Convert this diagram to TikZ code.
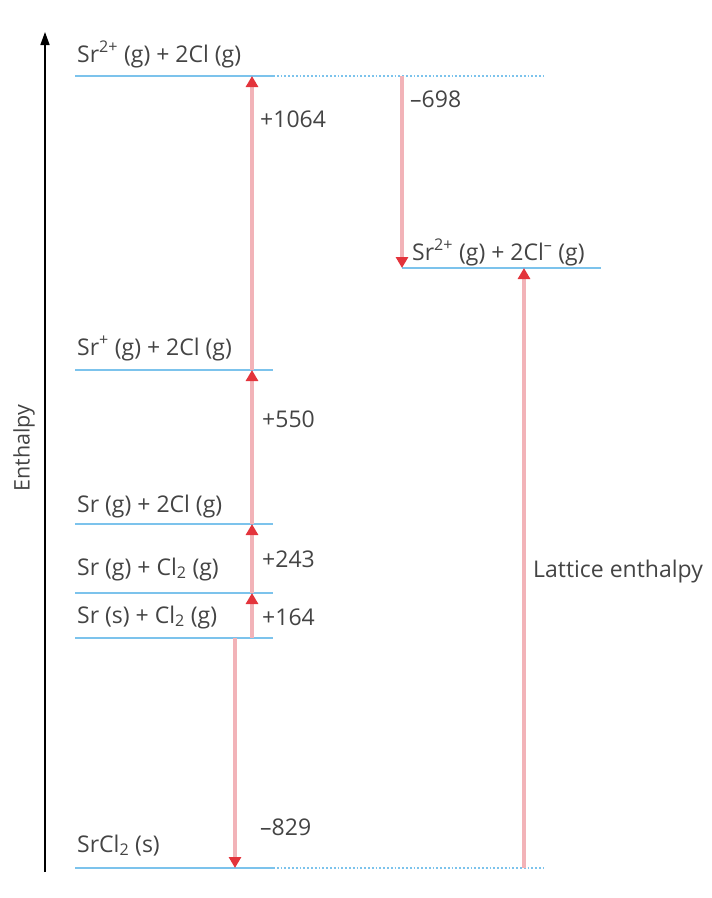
\documentclass[tikz,border=0pt]{standalone}
\usepackage{fontspec}
\setmainfont{Open Sans}
\usetikzlibrary{arrows.meta}
\definecolor{lvl}{HTML}{7CC3EC}
\definecolor{arrline}{HTML}{F2B3B8}
\definecolor{arrhead}{HTML}{E3343C}
\definecolor{txt}{HTML}{444444}
\begin{document}
\begin{tikzpicture}[x=1pt,y=-1pt,
  level/.style={draw=lvl,line width=2.4pt},
  dotlevel/.style={draw=lvl,line width=1.8pt,dash pattern=on 1.8pt off 2pt},
  rarrow/.style={draw=arrline,line width=3.5pt,-{Triangle[width=12pt,length=11pt,color=arrhead]}},
  lab/.style={anchor=base west,inner sep=0pt,text=txt,font=\fontsize{23}{26}\selectfont},
]
\useasboundingbox (0,0) rectangle (712,898);

% enthalpy axis
\coordinate (ax0) at (45,872);
\coordinate (ax1) at (45,32);
\draw[line width=1.6pt,-{Triangle[width=9pt,length=13pt]}] (ax0) -- (ax1);
\node[rotate=90,inner sep=0pt,text=txt,font=\fontsize{21.5}{24}\selectfont] (enth) at (24,448) {Enthalpy};

% level lines
\coordinate (L1a) at (75,76);  \coordinate (L1b) at (273,76); \coordinate (L1c) at (543,76);
\coordinate (L2a) at (402,268); \coordinate (L2b) at (601,268);
\coordinate (L3a) at (75,370); \coordinate (L3b) at (273,370);
\coordinate (L4a) at (75,524); \coordinate (L4b) at (273,524);
\coordinate (L5a) at (75,593); \coordinate (L5b) at (273,593);
\coordinate (L6a) at (75,638); \coordinate (L6b) at (273,638);
\coordinate (L7a) at (75,868); \coordinate (L7b) at (273,868); \coordinate (L7c) at (543,868);

\draw[level] (L1a) -- (L1b);
\draw[dotlevel] (L1b) -- (L1c);
\draw[level] (L2a) -- (L2b);
\draw[level] (L3a) -- (L3b);
\draw[level] (L4a) -- (L4b);
\draw[level] (L5a) -- (L5b);
\draw[level] (L6a) -- (L6b);
\draw[level] (L7a) -- (L7b);
\draw[dotlevel] (L7b) -- (L7c);

% arrow end points
\coordinate (c6) at (252,638);
\coordinate (c5) at (252,593);
\coordinate (c4) at (252,524);
\coordinate (c3) at (252,370);
\coordinate (c1) at (252,76);
\coordinate (f6) at (235,638);
\coordinate (f7) at (235,868);
\coordinate (e1) at (402,76);
\coordinate (e2) at (402,268);
\coordinate (g7) at (524,868);
\coordinate (g2) at (524,268);

\draw[rarrow] (c6) -- (c5);
\draw[rarrow] (c5) -- (c4);
\draw[rarrow] (c4) -- (c3);
\draw[rarrow] (c3) -- (c1);
\draw[rarrow] (f6) -- (f7);
\draw[rarrow] (e1) -- (e2);
\draw[rarrow] (g7) -- (g2);

% level labels
\node[lab] (t1) at (77,62) {Sr\textsuperscript{2+} (g) + 2Cl (g)};
\node[lab] (t2) at (412,260) {Sr\textsuperscript{2+} (g) + 2Cl\textsuperscript{–} (g)};
\node[lab] (t3) at (77,355) {Sr\textsuperscript{+} (g) + 2Cl (g)};
\node[lab] (t4) at (77,512) {Sr (g) + 2Cl (g)};
\node[lab] (t5) at (77,575) {Sr (g) + Cl\textsubscript{2} (g)};
\node[lab] (t6) at (77,623) {Sr (s) + Cl\textsubscript{2} (g)};
\node[lab] (t7) at (77,852) {SrCl\textsubscript{2} (s)};

% value labels
\node[lab] (v1) at (260,127) {+1064};
\node[lab] (v2) at (262,427) {+550};
\node[lab] (v3) at (262,567) {+243};
\node[lab] (v4) at (262,625) {+164};
\node[lab] (v5) at (260,835) {–829};
\node[lab] (v6) at (410,107) {–698};
\node[lab] (v7) at (533,577) {Lattice enthalpy};
\end{tikzpicture}
\end{document}
